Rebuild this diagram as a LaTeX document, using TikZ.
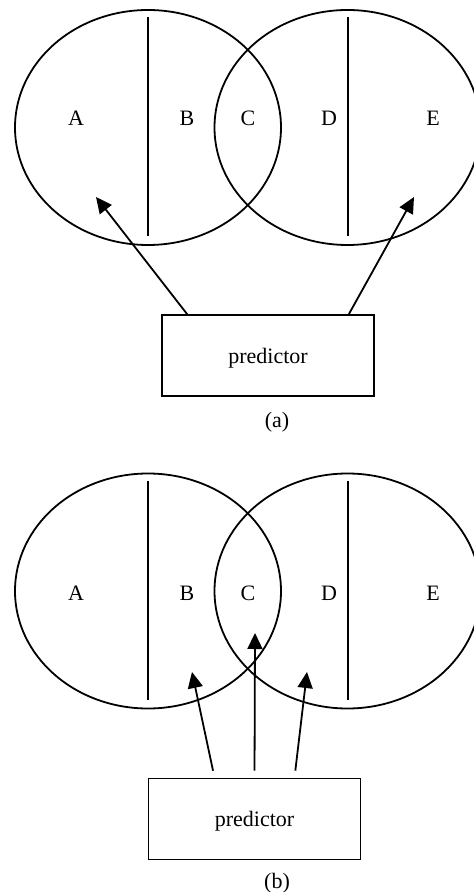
\documentclass[tikz,border=0pt]{standalone}
\usepackage{fontspec}
\setmainfont{Liberation Serif}
\usetikzlibrary{arrows.meta, positioning}

\begin{document}
\begin{tikzpicture}[
        x=0.5pt, y=-0.5pt,
        set line/.style={line width=0.9pt, black},
        region label/.style={font=\fontsize{11}{13}\selectfont},
        predictor box/.style={draw, line width=0.9pt, minimum width=106pt, minimum height=40.5pt, inner sep=0pt, text depth=0pt, font=\fontsize{11}{13}\selectfont},
        caption label/.style={font=\fontsize{11}{13}\selectfont},
        pred arrow/.style={line width=0.9pt, -{Triangle[length=8pt, width=7.5pt]}},
    ]

    % Page frame
    \useasboundingbox (0,0) rectangle (473,892);

    % Two overlapping sets with split lines, one copy per panel
    \foreach \p/\dy/\ly in {a/0/118, b/463.5/593} {
        \draw[set line] (148,127.5+\dy) ellipse [x radius=133, y radius=117.5];
        \draw[set line] (347.5,127.5+\dy) ellipse [x radius=133, y radius=117.5];
        \draw[set line] (148,17+\dy) -- (148,236+\dy);
        \draw[set line] (348,17+\dy) -- (348,236+\dy);

        \node[region label] (A\p) at (76,\ly) {A};
        \node[region label] (B\p) at (187,\ly) {B};
        \node[region label] (C\p) at (248,\ly) {C};
        \node[region label] (D\p) at (329,\ly) {D};
        \node[region label] (E\p) at (433,\ly) {E};
    }

    % Panel (a)
    \node[predictor box] (preda) at (268,355.5) {predictor};
    \node[caption label] (capa) at (277,422) {(a)};

    \coordinate (tipaA) at (96,197);
    \coordinate (tipaE) at (414,197);
    \draw[pred arrow] ([xshift=13pt]preda.north west) -- (tipaA);
    \draw[pred arrow] ([xshift=-13pt]preda.north east) -- (tipaE);

    % Panel (b)
    \node[predictor box] (predb) at (254.5,819) {predictor};
    \node[caption label] (capb) at (277,883) {(b)};

    \coordinate (tipbB) at (192,672);
    \coordinate (tipbC) at (255,633);
    \coordinate (tipbD) at (307,672);
    \draw[pred arrow, shorten <=3.5pt] ([xshift=-20pt]predb.north) -- (tipbB);
    \draw[pred arrow, shorten <=3.5pt] (predb.north) -- (tipbC);
    \draw[pred arrow, shorten <=3.5pt] ([xshift=20pt]predb.north) -- (tipbD);

\end{tikzpicture}
\end{document}
